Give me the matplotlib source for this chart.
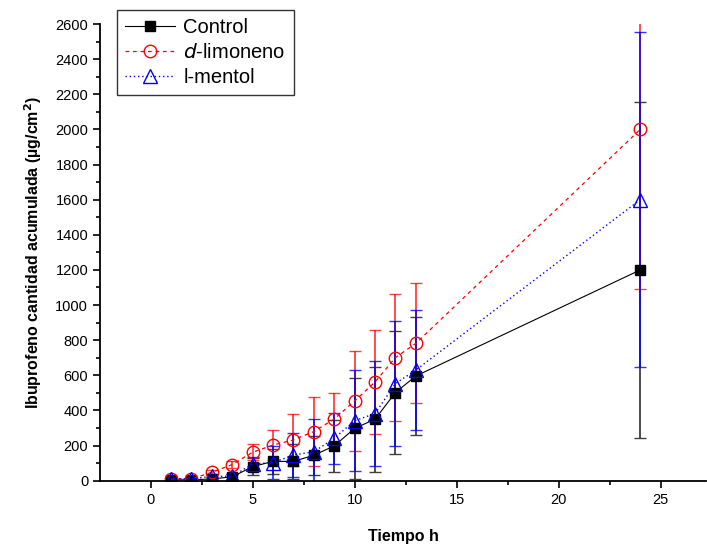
import matplotlib
matplotlib.use("Agg")
import matplotlib.pyplot as plt
from matplotlib.lines import Line2D
from matplotlib.ticker import MultipleLocator

plt.rcParams['font.family'] = ['Liberation Sans', 'DejaVu Sans']

# Data
t = [1, 2, 3, 4, 5, 6, 7, 8, 9, 10, 11, 12, 13, 24]
control = [5, 5, 10, 22, 80, 110, 110, 145, 198, 298, 350, 502, 596, 1200]
control_err = [5, 5, 10, 15, 50, 70, 100, 110, 150, 288, 300, 350, 335, 955]
limoneno = [10, 10, 48, 92, 162, 203, 232, 280, 351, 454, 562, 701, 782, 2000]
limoneno_err = [8, 8, 15, 20, 47, 88, 148, 197, 146, 286, 297, 360, 341, 910]
mentol = [12, 10, 25, 25, 95, 103, 146, 165, 241, 342, 382, 553, 630, 1600]
mentol_err = [8, 8, 15, 15, 40, 92, 127, 186, 147, 288, 300, 355, 340, 955]

fig = plt.figure(figsize=(7.07, 5.46), dpi=100)
ax = fig.add_axes([100 / 707, 65.3 / 546, 606 / 707, 456.7 / 546])

styles = [
    dict(color='black', lw=0.8, ls='-', marker='s', ms=7, mfc='black',
         mec='black', mew=1.0),
    dict(color='red', lw=0.9, ls=(0, (3, 3)), marker='o', ms=9, mfc='none',
         mec='red', mew=1.0),
    dict(color='blue', lw=1.0, ls=(0, (1, 2)), marker='^', ms=10, mfc='none',
         mec='blue', mew=1.0),
]
ecolors = [(0, 0, 0, 0.75), (1, 0, 0, 0.75), (0, 0, 1, 0.8)]
series = [(control, control_err), (limoneno, limoneno_err), (mentol, mentol_err)]
labels = ['Control', '$d$-limoneno', 'l-mentol']

for (y, err), st, ec in zip(series, styles, ecolors):
    ax.errorbar(t, y, yerr=err, ecolor=ec, elinewidth=1.3, capsize=4,
                capthick=1.3, **st)

ax.set_xlim(-2.48, 27.22)
ax.set_ylim(0, 2600)
ax.xaxis.set_major_locator(MultipleLocator(5))
ax.xaxis.set_minor_locator(MultipleLocator(2.5))
ax.yaxis.set_major_locator(MultipleLocator(200))
ax.yaxis.set_minor_locator(MultipleLocator(100))
ax.tick_params(which='major', direction='out', length=5, width=1.2, labelsize=10.5)
ax.tick_params(which='minor', direction='out', length=3, width=1.2)
for s in ('top', 'right'):
    ax.spines[s].set_visible(False)
for s in ('left', 'bottom'):
    ax.spines[s].set_linewidth(1.3)

ax.set_xlabel('Tiempo h', fontsize=11.5, fontweight='bold', labelpad=16)
ax.set_ylabel('Ibuprofeno cantidad acumulada (µg/cm$^\\mathbf{2}$)',
              fontsize=11.5, fontweight='bold', labelpad=8)

handles = [Line2D([], [], **st) for st in styles]
leg = ax.legend(handles, labels, loc='upper left',
                bbox_to_anchor=(117 / 707, 1 - 10 / 546),
                bbox_transform=fig.transFigure, fontsize=14.5, frameon=True,
                fancybox=False, edgecolor='black', handlelength=2.5,
                handletextpad=0.4, borderpad=0.4, labelspacing=0.3,
                borderaxespad=0)
leg.get_frame().set_linewidth(1.0)

fig.savefig('out.png', dpi=100)
